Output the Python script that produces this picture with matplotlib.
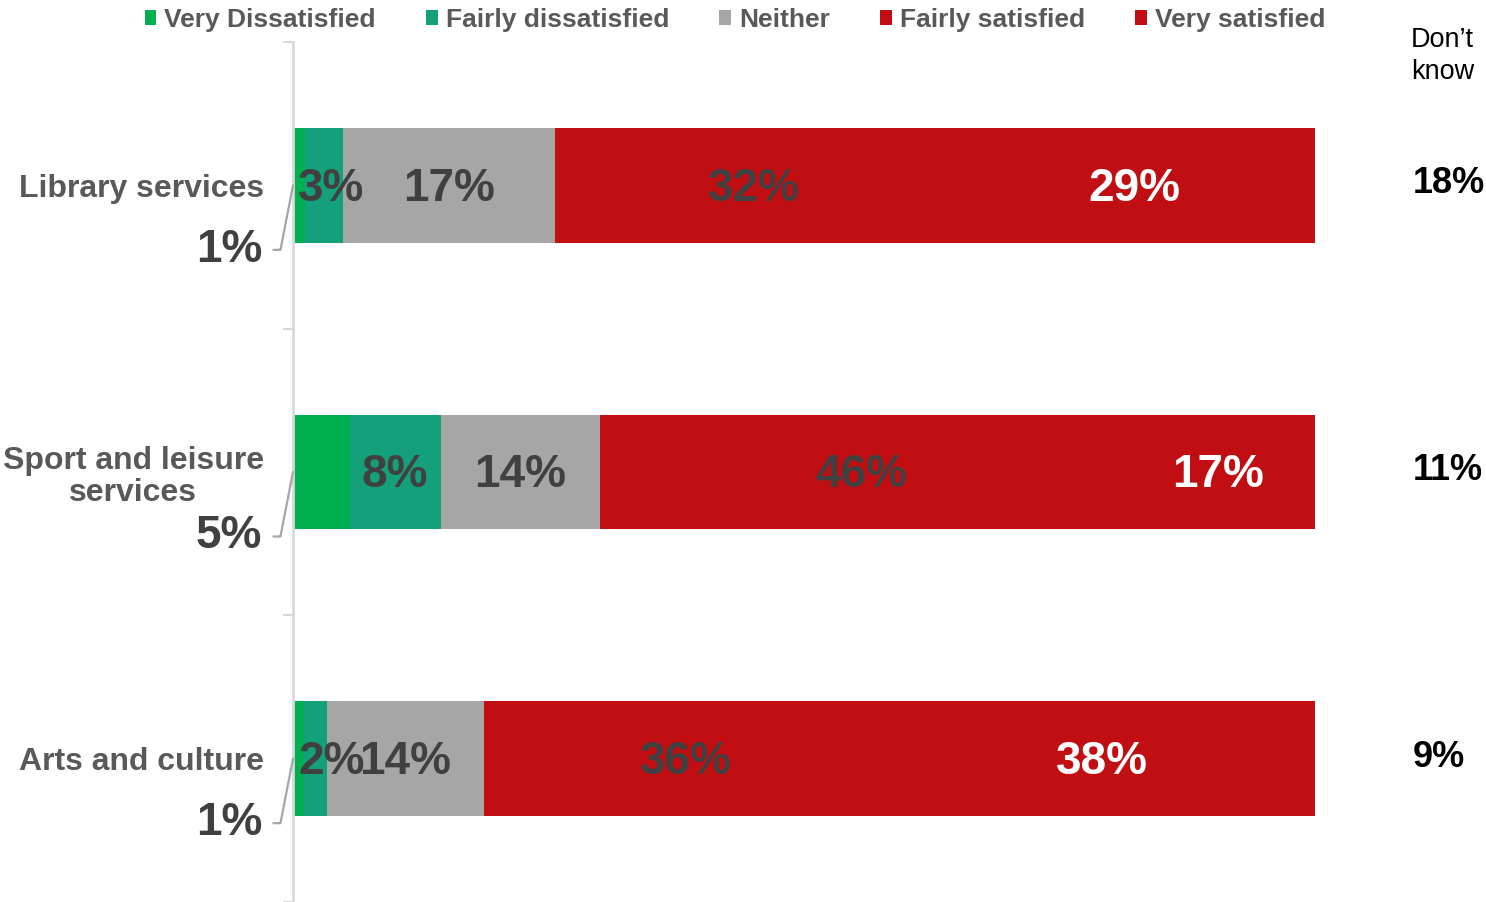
import matplotlib
matplotlib.use("Agg")
import matplotlib.pyplot as plt
import numpy as np

categories = ["Library services", "Sport and leisure\nservices", "Arts and culture"]
series_names = ["Very Dissatisfied", "Fairly dissatisfied", "Neither", "Fairly satisfied", "Very satisfied"]
very_dissatisfied = [1, 5, 1]
fairly_dissatisfied = [3, 8, 2]
neither = [17, 14, 14]
fairly_satisfied = [32, 46, 36]
very_satisfied = [29, 17, 38]
dont_know = [18, 11, 9]

colors = ["#00B050", "#14A07B", "#A6A6A6", "#C10E13", "#C10E13"]
label_colors = [None, "#404040", "#404040", "#404040", "white"]

FONT = ["Liberation Sans", "DejaVu Sans"]
plt.rcParams["font.family"] = FONT

fig = plt.figure(figsize=(14.86, 9.02), dpi=100)
ax = fig.add_axes([293 / 1486, 0.0, (1315 - 293) / 1486, 860 / 902])

data = np.array([very_dissatisfied, fairly_dissatisfied, neither, fairly_satisfied, very_satisfied], dtype=float)
totals = data.sum(axis=0)
norm = data / totals * 100
y = np.arange(len(categories))

left = np.zeros(len(categories))
containers = []
for i, name in enumerate(series_names):
    bc = ax.barh(y, norm[i], left=left, height=0.40, color=colors[i], label=name, linewidth=0)
    containers.append(bc)
    if i > 0:
        for j in range(len(categories)):
            w = norm[i][j]
            txt = f"{int(data[i][j])}%"
            if w < 5:
                ax.text(0.5, y[j] + 0.012, txt, ha="left", va="center", fontsize=33, fontweight="bold",
                        color=label_colors[i])
            else:
                ax.text(left[j] + w / 2, y[j] + 0.012, txt, ha="center", va="center", fontsize=33,
                        fontweight="bold", color=label_colors[i])
    left = left + norm[i]

# outside labels for very dissatisfied with leader lines
for j in range(len(categories)):
    ax.annotate(f"{very_dissatisfied[j]}%", xy=(0, y[j]), xycoords="data",
                xytext=(-3.0, y[j] + 0.225), textcoords="data",
                ha="right", va="center", fontsize=33, fontweight="bold", color="#404040",
                annotation_clip=False,
                arrowprops=dict(arrowstyle="-", color="#A6A6A6", lw=1.6,
                                connectionstyle="angle,angleA=0,angleB=79,rad=0",
                                relpos=(1.0, 0.5), shrinkA=6, shrinkB=0))

# Don't know column
ax.text(109.4, -0.45, "Don\u2019t\nknow", ha="left", va="center", fontsize=19.5, color="black",
        linespacing=1.3, clip_on=False)
for j in range(len(categories)):
    ax.text(109.6, y[j] - 0.005, f"{dont_know[j]}%", ha="left", va="center", fontsize=26,
            fontweight="bold", color="black", clip_on=False)

ax.set_xlim(0, 100)
ax.set_ylim(len(categories) - 0.5, -0.5)

# axis styling
for s in ["top", "right", "bottom"]:
    ax.spines[s].set_visible(False)
ax.spines["left"].set_color("#D9D9D9")
ax.spines["left"].set_linewidth(2)
ax.set_xticks([])
ax.set_yticks(np.arange(len(categories) + 1) - 0.5)
ax.set_yticklabels([])
ax.tick_params(axis="y", which="major", length=7, width=1.5, color="#D9D9D9", direction="out")
ax.set_yticks(y, minor=True)
ax.set_yticklabels(categories, minor=True, fontsize=23, fontweight="bold", color="#595959",
                   multialignment="center", linespacing=1.1)
ax.tick_params(axis="y", which="minor", length=0, pad=21)

handles = containers
fig.legend(handles=handles, labels=series_names, loc="center", bbox_to_anchor=(0.4946, 0.978),
           ncol=5, frameon=False, prop={"weight": "bold", "size": 19},
           handlelength=0.45, handleheight=0.45, handletextpad=0.3, columnspacing=1.9,
           borderpad=0, labelcolor="#595959")

fig.savefig("out.png", dpi=100)
